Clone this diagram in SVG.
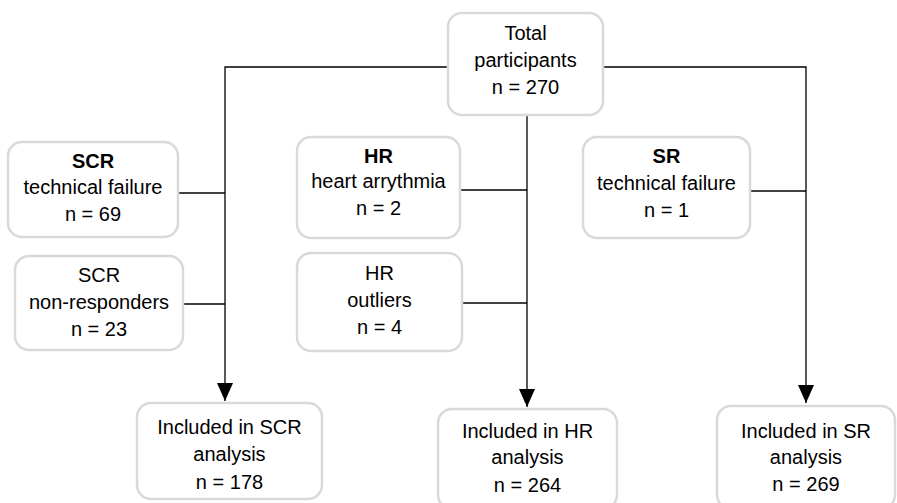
<svg xmlns="http://www.w3.org/2000/svg" width="897" height="503" viewBox="0 0 897 503">
<defs>
<style>
.box{fill:#fff;stroke:#d9d9d9;stroke-width:2.5}
.t{font-family:"Liberation Sans",Arial,sans-serif;font-size:20px;fill:#000;text-anchor:middle}
.b{font-weight:bold}
.ln{stroke:#000;stroke-width:1.3;fill:none}
</style>
<marker id="ah" markerWidth="18" markerHeight="16" refX="18" refY="8" orient="auto" markerUnits="userSpaceOnUse">
<path d="M0,0 L18,8 L0,16 Z" fill="#000"/>
</marker>
</defs>
<g id="connectors">
<path class="ln" d="M448,67 H225 V401" marker-end="url(#ah)"/>
<path class="ln" d="M603,67 H806 V403" marker-end="url(#ah)"/>
<path class="ln" d="M527,115 V407" marker-end="url(#ah)"/>
<path class="ln" d="M178,193 H225"/>
<path class="ln" d="M183,304 H225"/>
<path class="ln" d="M460,190 H527"/>
<path class="ln" d="M462,303 H527"/>
<path class="ln" d="M750,191 H806"/>
</g>
<g id="total">
<rect class="box" x="448" y="13" width="155" height="102" rx="14"/>
<text class="t" x="525.5" y="40">Total</text>
<text class="t" x="525.5" y="67">participants</text>
<text class="t" x="525.5" y="94">n = 270</text>
</g>
<g id="scr-fail">
<rect class="box" x="8" y="142" width="170" height="95" rx="14"/>
<text class="t b" x="93" y="168">SCR</text>
<text class="t" x="93" y="194">technical failure</text>
<text class="t" x="93" y="221">n = 69</text>
</g>
<g id="scr-nonresp">
<rect class="box" x="15" y="256" width="168" height="94" rx="14"/>
<text class="t" x="99" y="282">SCR</text>
<text class="t" x="99" y="309">non-responders</text>
<text class="t" x="99" y="336">n = 23</text>
</g>
<g id="hr-arr">
<rect class="box" x="297" y="137" width="163" height="101" rx="14"/>
<text class="t b" x="378.5" y="163">HR</text>
<text class="t" x="378.5" y="188">heart arrythmia</text>
<text class="t" x="378.5" y="215">n = 2</text>
</g>
<g id="hr-out">
<rect class="box" x="297" y="253" width="165" height="98" rx="14"/>
<text class="t" x="379.5" y="280">HR</text>
<text class="t" x="379.5" y="307">outliers</text>
<text class="t" x="379.5" y="334">n = 4</text>
</g>
<g id="sr-fail">
<rect class="box" x="583" y="137" width="167" height="101" rx="14"/>
<text class="t b" x="666.5" y="163">SR</text>
<text class="t" x="666.5" y="190">technical failure</text>
<text class="t" x="666.5" y="217">n = 1</text>
</g>
<g id="scr-inc">
<rect class="box" x="137" y="403" width="185" height="96" rx="14"/>
<text class="t" x="229.5" y="434">Included in SCR</text>
<text class="t" x="229.5" y="461">analysis</text>
<text class="t" x="229.5" y="489">n = 178</text>
</g>
<g id="hr-inc">
<rect class="box" x="438" y="409" width="179" height="100" rx="14"/>
<text class="t" x="527.5" y="438">Included in HR</text>
<text class="t" x="527.5" y="464">analysis</text>
<text class="t" x="527.5" y="492">n = 264</text>
</g>
<g id="sr-inc">
<rect class="box" x="717" y="406" width="178" height="103" rx="14"/>
<text class="t" x="806" y="438">Included in SR</text>
<text class="t" x="806" y="464">analysis</text>
<text class="t" x="806" y="491">n = 269</text>
</g>
</svg>
